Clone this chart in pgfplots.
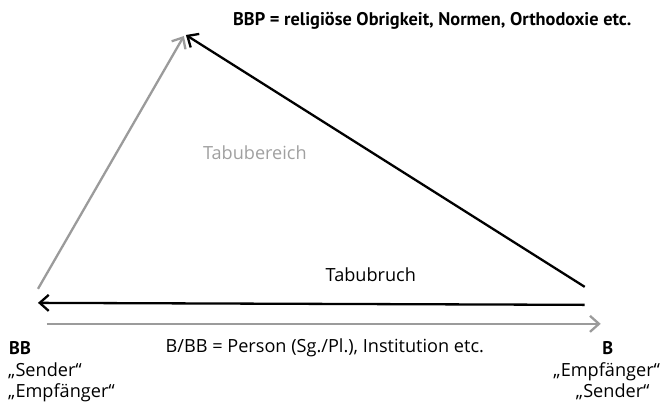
\documentclass[border=0pt]{standalone}
\usepackage{pgfplots}
\pgfplotsset{compat=1.18}
\usepackage{fontspec}
\setmainfont{Open Sans}
\newfontfamily\boldf{PT Sans}
\usetikzlibrary{arrows.meta}
\definecolor{lgray}{RGB}{155,155,155}
\definecolor{tgray}{RGB}{160,160,160}
\newcommand{\fs}{\fontsize{18.2}{22}\selectfont}
\newcommand{\fb}{\fontsize{18.4}{22}\selectfont\boldf\bfseries}
\begin{document}
\begin{tikzpicture}[x=1bp,y=1bp,font=\fs]
\begin{axis}[
  scale only axis, width=660bp, height=403bp,
  xmin=0, xmax=660, ymin=0, ymax=403,
  hide axis, clip=false
]
\path (axis cs:0,0) rectangle (axis cs:660,403);
\addplot[lgray, line width=2.3bp, -{Straight Barb[length=9bp,width=16bp]}] coordinates {(38,114) (184,367)};
\addplot[black, line width=2.3bp, -{Straight Barb[length=9bp,width=16bp]}] coordinates {(585,116) (186,368)};
\addplot[black, line width=2.3bp, -{Straight Barb[length=9bp,width=16bp]}] coordinates {(585,98) (38,100)};
\addplot[lgray, line width=2.3bp, -{Straight Barb[length=9bp,width=16bp]}] coordinates {(47,79) (601,79)};
\node[anchor=base west, inner sep=0pt, font=\fb] at (axis cs:233,377) {BBP = religiöse Obrigkeit, Normen, Orthodoxie etc.};
\node[anchor=base, inner sep=0pt, font=\fs, text=tgray] at (axis cs:255,243) {Tabubereich};
\node[anchor=base, inner sep=0pt, font=\fs] at (axis cs:371,121) {Tabubruch};
\node[anchor=base west, inner sep=0pt, font=\fb] at (axis cs:9,48) {BB};
\node[anchor=base west, inner sep=0pt, font=\fs] at (axis cs:8,26) {„Sender“};
\node[anchor=base west, inner sep=0pt, font=\fs] at (axis cs:8,5) {„Empfänger“};
\node[anchor=base, inner sep=0pt, font=\fs] at (axis cs:325,50) {B/BB = Person (Sg./Pl.), Institution etc.};
\node[anchor=base, inner sep=0pt, font=\fb] at (axis cs:608,48) {B};
\node[anchor=base, inner sep=0pt, font=\fs] at (axis cs:607,26) {„Empfänger“};
\node[anchor=base, inner sep=0pt, font=\fs] at (axis cs:613,5) {„Sender“};
\end{axis}
\end{tikzpicture}
\end{document}
